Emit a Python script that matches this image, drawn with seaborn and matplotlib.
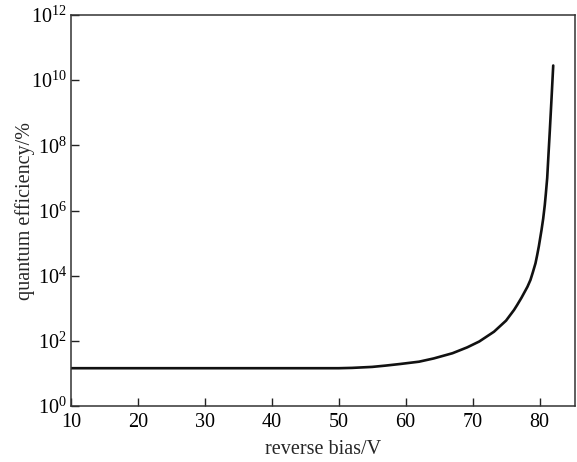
import matplotlib
matplotlib.use("Agg")
import matplotlib.pyplot as plt
import seaborn as sns
from matplotlib.ticker import FixedLocator, NullLocator

bias = [10, 20, 30, 40, 45, 50, 52, 55, 57, 59.2, 62, 64.2, 67, 69.2, 71, 73.2, 75,
        76.2, 76.66, 77.3, 78.2, 78.65, 79.0, 79.4, 79.65, 79.9, 80.3, 80.55, 80.79,
        80.94, 81.15, 81.35, 81.54, 81.8, 82.05]
log_qe = [1.16, 1.16, 1.16, 1.16, 1.16, 1.16, 1.17, 1.20, 1.24, 1.29, 1.36, 1.46, 1.62,
          1.80, 1.98, 2.28, 2.62, 2.95, 3.10, 3.32, 3.66, 3.87, 4.10, 4.38, 4.63, 4.90,
          5.40, 5.75, 6.17, 6.50, 7.00, 7.75, 8.45, 9.45, 10.45]
qe = [10 ** v for v in log_qe]

ytick_exp = [0, 2, 4, 6, 8, 10, 12]
xticks = [10, 20, 30, 40, 50, 60, 70, 80]

sns.set_style("ticks")
plt.rcParams["font.family"] = ["Liberation Serif", "DejaVu Serif"]
plt.rcParams["mathtext.fontset"] = "custom"
plt.rcParams["mathtext.rm"] = "Liberation Serif"
plt.rcParams["mathtext.it"] = "Liberation Serif:italic"
plt.rcParams["mathtext.default"] = "regular"

fig = plt.figure(figsize=(5.77, 4.62), dpi=100)
ax = fig.add_axes([0.123, 0.1212, 0.8735, 0.8463])

sns.lineplot(x=bias, y=qe, ax=ax, color="#111111", linewidth=1.9, sort=False)
ax.set_yscale("log")
ax.set_xlim(10, 85.3)
ax.set_ylim(1, 1e12)

ax.yaxis.set_major_locator(FixedLocator([10.0 ** e for e in ytick_exp]))
ax.yaxis.set_minor_locator(NullLocator())
ax.set_yticklabels([f"$10^{{{e}}}$" for e in ytick_exp])
ax.set_xticks(xticks)
ax.set_xticklabels([str(t) for t in xticks])

ax.tick_params(axis="both", direction="in", length=6, width=1, colors="#222222",
               labelsize=14.5, labelcolor="black")
ax.tick_params(axis="x", pad=5)
ax.tick_params(axis="y", pad=3)
for s in ax.spines.values():
    s.set_visible(True)
    s.set_linewidth(1.1)
    s.set_color("#333333")

ax.set_xlabel("reverse bias/V", fontsize=14.5)
ax.set_ylabel("quantum efficiency/%", fontsize=14.5)
ax.xaxis.set_label_coords(0.5, -0.11)
ax.xaxis.label.set_va("center")
ax.yaxis.set_label_coords(-0.091, 0.5)
ax.yaxis.label.set_va("center")

fig.savefig("out.png", dpi=100)
